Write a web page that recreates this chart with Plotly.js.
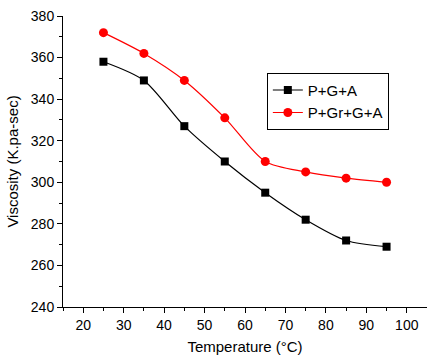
<!DOCTYPE html>
<html><head><meta charset="utf-8">
<script src="https://cdn.plot.ly/plotly-3.0.1.min.js"></script>
<style>body{margin:0;padding:0;background:#fff}#chart{width:427px;height:358px}</style>
</head><body><div id="chart"></div>
<script>
var temperature = [25, 35, 45, 55, 65, 75, 85, 95];
var pga = [358, 349, 327, 310, 295, 282, 272, 269];
var pgrga = [372, 362, 349, 331, 310, 305, 302, 300];
var seriesNames = ["P+G+A", "P+Gr+G+A"];
var xTicks = [20, 30, 40, 50, 60, 70, 80, 90, 100];
var yTicks = [240, 260, 280, 300, 320, 340, 360, 380];

var traces = [
  {x: temperature, y: pga, name: seriesNames[0], mode: 'lines+markers',
   line: {color: '#000000', width: 1.2, shape: 'spline', smoothing: 0.8},
   marker: {symbol: 'square', size: 8, color: '#000000'}},
  {x: temperature, y: pgrga, name: seriesNames[1], mode: 'lines+markers',
   line: {color: '#ff0000', width: 1.2, shape: 'spline', smoothing: 0.8},
   marker: {symbol: 'circle', size: 9, color: '#ff0000'}}
];
var layout = {
  width: 427, height: 358,
  margin: {l: 63, r: 0, t: 16, b: 51},
  paper_bgcolor: '#fff', plot_bgcolor: '#fff',
  font: {family: 'Liberation Sans, Arial, sans-serif', size: 14, color: '#000'},
  showlegend: true,
  legend: {x: 0.56, y: 0.805, xanchor: 'left', yanchor: 'top', bordercolor: '#000', borderwidth: 1,
           font: {size: 15}, bgcolor: '#fff', tracegroupgap: 0, itemwidth: 30},
  xaxis: {range: [15, 105], tickvals: xTicks, showgrid: false, zeroline: false,
          showline: true, linecolor: '#000', linewidth: 1, ticks: 'outside', ticklen: 5, tickcolor: '#000',
          minor: {tickvals: [15,25,35,45,55,65,75,85,95,105], ticks: 'outside', ticklen: 3, tickcolor: '#000', showgrid: false},
          title: {text: 'Temperature (°C)', font: {size: 15}, standoff: 9}},
  yaxis: {range: [240, 380], tickvals: yTicks, showgrid: false, zeroline: false,
          showline: true, linecolor: '#000', linewidth: 1, ticks: 'outside', ticklen: 5, tickcolor: '#000',
          minor: {tickvals: [250,270,290,310,330,350,370], ticks: 'outside', ticklen: 3, tickcolor: '#000', showgrid: false},
          title: {text: 'Viscosity (K.pa-sec)', font: {size: 15}, standoff: 8}}
};
Plotly.newPlot('chart', traces, layout, {displayModeBar: false, staticPlot: true});
</script></body></html>
